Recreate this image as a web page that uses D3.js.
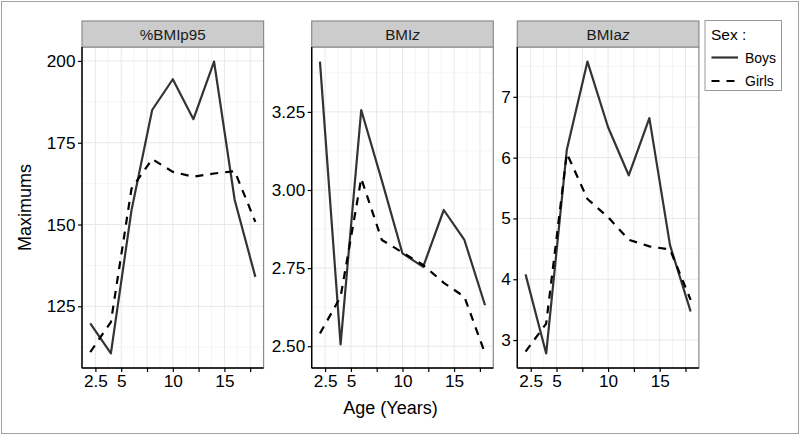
<!DOCTYPE html>
<html>
<head>
<meta charset="utf-8">
<script src="https://cdn.jsdelivr.net/npm/d3@7"></script>
<style>
  html, body { margin: 0; padding: 0; background: #fff; }
  svg { display: block; font-family: "Liberation Sans", Arial, Helvetica, sans-serif; }
</style>
</head>
<body>
<svg id="chart" width="800" height="435"></svg>
<script>
// ---- data ----
const ages = [2, 4, 6, 8, 10, 12, 14, 16, 18];
const sexes = ["Boys", "Girls"];
const panelNames = ["%BMIp95", "BMIz", "BMIaz"];

const boysP95  = [119.8, 110.6, 154.4, 185.0, 194.4, 182.2, 199.8, 157.5, 134.0];
const girlsP95 = [111.0, 120.2, 161.0, 170.0, 166.1, 164.6, 165.6, 166.3, 150.8];

const boysZ  = [3.411, 2.506, 3.256, 3.030, 2.797, 2.754, 2.936, 2.840, 2.631];
const girlsZ = [2.541, 2.658, 3.037, 2.840, 2.800, 2.760, 2.703, 2.658, 2.477];

const boysAz  = [4.08, 2.78, 6.13, 7.58, 6.50, 5.71, 6.65, 4.56, 3.47];
const girlsAz = [2.81, 3.27, 6.07, 5.32, 5.02, 4.65, 4.54, 4.49, 3.66];

const xTicks = [2.5, 5, 7.5, 10, 12.5, 15, 17.5];
const xTickLabels = ["2.5", "5", "", "10", "", "15", ""];

const yTicksP95 = [125, 150, 175, 200];
const yTickLabelsP95 = ["125", "150", "175", "200"];
const yTicksZ = [2.5, 2.75, 3.0, 3.25];
const yTickLabelsZ = ["2.50", "2.75", "3.00", "3.25"];
const yTicksAz = [3, 4, 5, 6, 7];
const yTickLabelsAz = ["3", "4", "5", "6", "7"];

const xTitle = "Age (Years)";
const yTitle = "Maximums";
const legendTitle = "Sex :";

// ---- build panels from arrays ----
const panels = [
  { name: panelNames[0], boys: boysP95, girls: girlsP95, ticks: yTicksP95, labels: yTickLabelsP95 },
  { name: panelNames[1], boys: boysZ,   girls: girlsZ,   ticks: yTicksZ,   labels: yTickLabelsZ },
  { name: panelNames[2], boys: boysAz,  girls: girlsAz,  ticks: yTicksAz,  labels: yTickLabelsAz }
];

// ---- layout ----
const svg = d3.select("#chart");
const panelLefts = [82, 311.7, 517.3];
const panelW = 181.6;
const stripTop = 21, panelTop = 47, panelBottom = 368;
const tickFont = 17.2;

const lineStyles = {
  Boys:  { stroke: "#333333", dash: null },
  Girls: { stroke: "#000000", dash: "8,7" }
};

// outer border
svg.append("rect").attr("x", 1.5).attr("y", 1.5).attr("width", 797).attr("height", 432)
  .attr("fill", "none").attr("stroke", "#a0a0a0").attr("stroke-width", 1);

const xDomain = d3.extent(ages);
const xPad = (xDomain[1] - xDomain[0]) * 0.05;

panels.forEach((p, i) => {
  const left = panelLefts[i];
  const g = svg.append("g");

  const x = d3.scaleLinear().domain([xDomain[0] - xPad, xDomain[1] + xPad]).range([left, left + panelW]);
  const all = p.boys.concat(p.girls);
  const ext = d3.extent(all);
  const yPad = (ext[1] - ext[0]) * 0.05;
  const y = d3.scaleLinear().domain([ext[0] - yPad, ext[1] + yPad]).range([panelBottom, panelTop]);

  // panel bg
  g.append("rect").attr("x", left).attr("y", panelTop).attr("width", panelW)
    .attr("height", panelBottom - panelTop).attr("fill", "#fff");

  // minor grid
  const xMinor = xTicks.map(t => t - 1.25).concat([xTicks[xTicks.length - 1] + 1.25])
    .filter(v => v >= x.domain()[0] && v <= x.domain()[1]);
  const yStep = p.ticks[1] - p.ticks[0];
  const yMinor = [];
  for (let k = -1; k < p.ticks.length; k++) {
    const v = p.ticks[0] + (k + 0.5) * yStep;
    if (v >= y.domain()[0] && v <= y.domain()[1]) yMinor.push(v);
  }
  g.selectAll(null).data(xMinor).enter().append("line")
    .attr("x1", d => x(d)).attr("x2", d => x(d)).attr("y1", panelTop).attr("y2", panelBottom)
    .attr("stroke", "#f2f2f2").attr("stroke-width", 0.8);
  g.selectAll(null).data(yMinor).enter().append("line")
    .attr("y1", d => y(d)).attr("y2", d => y(d)).attr("x1", left).attr("x2", left + panelW)
    .attr("stroke", "#f2f2f2").attr("stroke-width", 0.8);
  // major grid
  g.selectAll(null).data(xTicks).enter().append("line")
    .attr("x1", d => x(d)).attr("x2", d => x(d)).attr("y1", panelTop).attr("y2", panelBottom)
    .attr("stroke", "#e8e8e8").attr("stroke-width", 1);
  g.selectAll(null).data(p.ticks).enter().append("line")
    .attr("y1", d => y(d)).attr("y2", d => y(d)).attr("x1", left).attr("x2", left + panelW)
    .attr("stroke", "#e8e8e8").attr("stroke-width", 1);

  // panel border (top/right gray)
  g.append("rect").attr("x", left).attr("y", panelTop).attr("width", panelW)
    .attr("height", panelBottom - panelTop).attr("fill", "none").attr("stroke", "#8c8c8c").attr("stroke-width", 1.2);

  // strip
  g.append("rect").attr("x", left).attr("y", stripTop).attr("width", panelW)
    .attr("height", panelTop - stripTop).attr("fill", "#cccccc").attr("stroke", "#8c8c8c").attr("stroke-width", 1.2);
  const st = g.append("text").attr("x", left + panelW / 2).attr("y", stripTop + 18.5)
    .attr("text-anchor", "middle").attr("font-size", 15.2).attr("fill", "#1a1a1a");
  if (p.name.endsWith("z")) {
    st.append("tspan").text(p.name.slice(0, -1));
    st.append("tspan").attr("font-style", "italic").text("z");
  } else {
    st.text(p.name);
  }

  // lines
  sexes.forEach(s => {
    const vals = s === "Boys" ? p.boys : p.girls;
    const line = d3.line().x((d, j) => x(ages[j])).y(d => y(d));
    g.append("path").datum(vals).attr("d", line)
      .attr("fill", "none").attr("stroke", lineStyles[s].stroke).attr("stroke-width", 2.2)
      .attr("stroke-dasharray", lineStyles[s].dash).attr("stroke-linejoin", "round");
  });

  // axes
  const xAxis = d3.axisBottom(x).tickValues(xTicks).tickSize(4).tickPadding(2.5)
    .tickFormat((d, j) => xTickLabels[j]);
  const xa = g.append("g").attr("transform", `translate(0,${panelBottom})`).call(xAxis);
  xa.select(".domain").attr("stroke", "#000").attr("stroke-width", 1.4);
  xa.selectAll(".tick line").attr("stroke", "#000").attr("stroke-width", 1.2);
  xa.selectAll(".tick text").attr("font-size", tickFont).attr("fill", "#000")
    .attr("font-family", "Liberation Sans, Arial, sans-serif");

  const yAxis = d3.axisLeft(y).tickValues(p.ticks).tickSize(4).tickPadding(2.5)
    .tickFormat((d, j) => p.labels[j]);
  const ya = g.append("g").attr("transform", `translate(${left},0)`).call(yAxis);
  ya.select(".domain").attr("stroke", "#000").attr("stroke-width", 1.4);
  ya.selectAll(".tick line").attr("stroke", "#000").attr("stroke-width", 1.2);
  ya.selectAll(".tick text").attr("font-size", tickFont).attr("fill", "#000")
    .attr("font-family", "Liberation Sans, Arial, sans-serif");
  // trim domain outer ticks
  xa.select(".domain").attr("d", `M${left},0H${left + panelW}`);
  ya.select(".domain").attr("d", `M0,${panelTop}V${panelBottom}`);
});

// axis titles
svg.append("text").attr("x", (panelLefts[0] + panelLefts[2] + panelW) / 2).attr("y", 414)
  .attr("text-anchor", "middle").attr("font-size", 18).attr("fill", "#000").text(xTitle);
svg.append("text").attr("transform", `translate(31,${(panelTop + panelBottom) / 2}) rotate(-90)`)
  .attr("text-anchor", "middle").attr("font-size", 18).attr("fill", "#000").text(yTitle);

// legend
const lg = svg.append("g");
lg.append("rect").attr("x", 705).attr("y", 20.5).attr("width", 76.5).attr("height", 70)
  .attr("fill", "#fff").attr("stroke", "#999").attr("stroke-width", 1);
lg.append("text").attr("x", 711).attr("y", 39.5).attr("font-size", 15.5).attr("fill", "#000").text(legendTitle);
sexes.forEach((s, i) => {
  const yy = 57.5 + i * 23.5;
  lg.append("line").attr("x1", 711.5).attr("x2", 738).attr("y1", yy).attr("y2", yy)
    .attr("stroke", lineStyles[s].stroke).attr("stroke-width", 2.2)
    .attr("stroke-dasharray", lineStyles[s].dash);
  lg.append("text").attr("x", 745).attr("y", yy + 5).attr("font-size", 14).attr("fill", "#000").text(s);
});
</script>
</body>
</html>
